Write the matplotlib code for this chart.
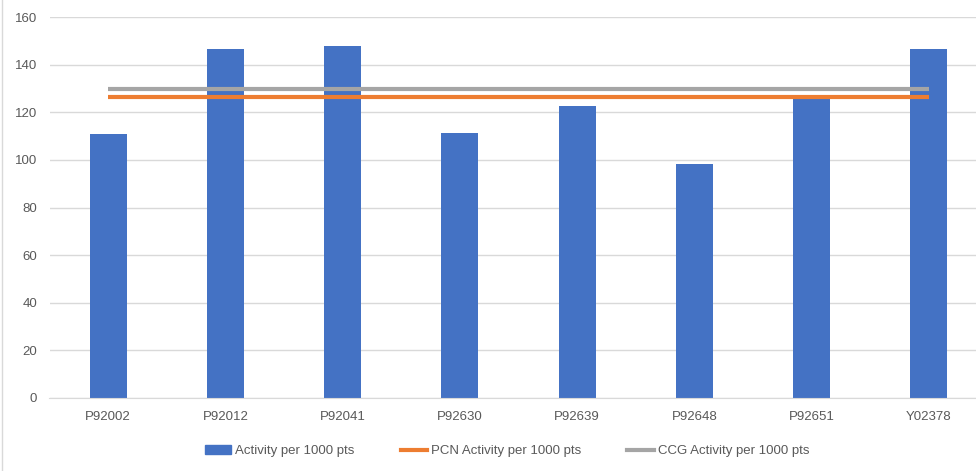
import matplotlib
matplotlib.use("Agg")
import matplotlib.pyplot as plt
from matplotlib.lines import Line2D
from matplotlib.patches import Patch

# practice codes and values
practices = ["P92002", "P92012", "P92041", "P92630", "P92639", "P92648", "P92651", "Y02378"]
activity = [110.9, 146.6, 147.8, 111.3, 122.6, 98.3, 125.4, 146.6]
pcn_activity = [126.3] * len(practices)
ccg_activity = [129.8] * len(practices)

plt.rcParams['font.family'] = ['Liberation Sans', 'DejaVu Sans']

fig = plt.figure(figsize=(9.76, 4.71), dpi=100)
ax = fig.add_axes([49.5 / 976, 73 / 471, 938 / 976, 381 / 471])

x = range(len(practices))
ax.bar(x, activity, width=0.315, color='#4472C4', zorder=2)
ax.plot(x, ccg_activity, color='#A5A5A5', linewidth=3, solid_capstyle='butt', zorder=3)
ax.plot(x, pcn_activity, color='#ED7D31', linewidth=3, solid_capstyle='butt', zorder=3)

ax.set_xlim(-0.5, 7.5)
ax.set_ylim(0, 160)
ax.set_yticks(range(0, 161, 20))
ax.set_xticks(list(x))
ax.set_xticklabels(practices)
ax.yaxis.grid(True, color='#D9D9D9', linewidth=1, zorder=0)
ax.set_axisbelow(True)
for s in ['top', 'right', 'left']:
    ax.spines[s].set_visible(False)
ax.spines['bottom'].set_color('#D9D9D9')
ax.tick_params(axis='both', length=0, labelsize=9.5, colors='#595959')
ax.tick_params(axis='y', pad=9)
ax.tick_params(axis='x', pad=9)

# thin chart frame at the left edge
fig.add_artist(Line2D([2 / 976, 2 / 976], [0, 1], color='#D9D9D9', linewidth=1))

handles = [Patch(color='#4472C4'),
           Line2D([], [], color='#ED7D31', linewidth=3),
           Line2D([], [], color='#A5A5A5', linewidth=3)]
labels = ["Activity per 1000 pts", "PCN Activity per 1000 pts", "CCG Activity per 1000 pts"]
leg = fig.legend(handles, labels, loc='center', bbox_to_anchor=(0.5195, 20 / 471), ncol=3,
                 frameon=False, fontsize=9.5, handlelength=2.0, handletextpad=0.3,
                 columnspacing=3.5, labelcolor='#595959')

fig.savefig("out.png", dpi=100)
